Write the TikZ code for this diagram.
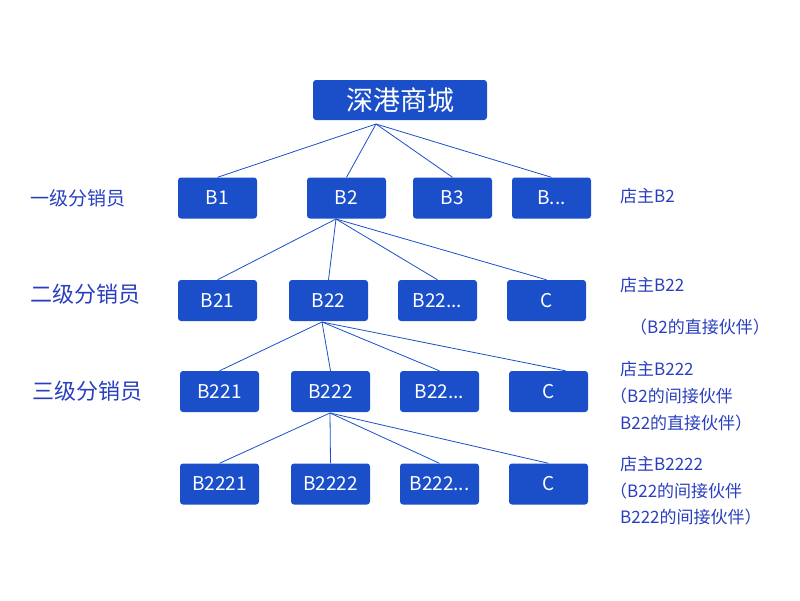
\documentclass[tikz,border=0pt]{standalone}
\usepackage{fontspec}
\newfontfamily\cjk{Noto Sans CJK SC}
\begin{document}
\begin{tikzpicture}[x=1pt,y=-1pt,
 box/.style={fill=blue1,rounded corners=3pt,minimum width=79pt,minimum height=41pt,inner sep=0pt,text=white,font=\cjk\fontsize{19}{22}\selectfont},
 lab/.style={text=txt,font=\cjk\fontsize{17}{20}\selectfont,anchor=west,inner sep=0pt},
 llab/.style={text=txt,inner sep=0pt},
 ln/.style={draw=blue1,line width=0.8pt}]
\definecolor{blue1}{HTML}{1A4FC9}
\definecolor{txt}{HTML}{2A3FBF}
\useasboundingbox (0,0) rectangle (800,600);
\node[box,minimum width=174pt,minimum height=40pt,font=\cjk\fontsize{27}{30}\selectfont] (top) at (400,100) {深港商城};
% row1
\node[box] (b1) at (217.5,198) {B1};
\node[box] (b2) at (346.5,198) {B2};
\node[box] (b3) at (452.5,198) {B3};
\node[box] (bx) at (551.5,198) {B...};
% row2
\node[box] (b21) at (217.5,300.5) {B21};
\node[box] (b22) at (328.5,300.5) {B22};
\node[box] (b22x) at (437.5,300.5) {B22...};
\node[box] (c2) at (546.5,300.5) {C};
% row3
\node[box] (b221) at (219.5,391.5) {B221};
\node[box] (b222) at (330.5,391.5) {B222};
\node[box] (b22y) at (439.5,391.5) {B22...};
\node[box] (c3) at (548.5,391.5) {C};
% row4
\node[box] (b2221) at (219.5,484) {B2221};
\node[box] (b2222) at (330.5,484) {B2222};
\node[box] (b222x) at (439.5,484) {B222...};
\node[box] (c4) at (548.5,484) {C};
\coordinate (s0) at (376,124);
\coordinate (s1) at (336,219);
\coordinate (s2) at (322,322);
\coordinate (s3) at (330,413);
\foreach \n in {b1,b2,b3,bx} \draw[ln] (s0) -- (\n.north);
\foreach \n in {b21,b22,b22x,c2} \draw[ln] (s1) -- (\n.north);
\foreach \n in {b221,b222,b22y} \draw[ln] (s2) -- (\n.north);
\draw[ln] (s2) -- ([xshift=17pt]c3.north);
\foreach \n in {b2221,b2222,b222x,c4} \draw[ln] (s3) -- (\n.north);
% left labels
\node[llab,font=\cjk\fontsize{19}{22}\selectfont] (l1) at (78,198) {一级分销员};
\node[llab,font=\cjk\fontsize{22}{26}\selectfont] (l2) at (85,294) {二级分销员};
\node[llab,font=\cjk\fontsize{22}{26}\selectfont] (l3) at (87,391) {三级分销员};
% right labels
\node[lab] (r1) at (620,196) {店主B2};
\node[lab] (r2) at (620,285) {店主B22};
\node[lab] (r2b) at (630,327) {（B2的直接伙伴）};
\node[lab] (r3) at (620,369) {店主B222};
\node[lab] (r3b) at (610,396) {（B2的间接伙伴};
\node[lab] (r3c) at (620,423) {B22的直接伙伴）};
\node[lab] (r4) at (620,464) {店主B2222};
\node[lab] (r4b) at (610,491) {（B22的间接伙伴};
\node[lab] (r4c) at (620,517) {B222的间接伙伴）};
\end{tikzpicture}
\end{document}
